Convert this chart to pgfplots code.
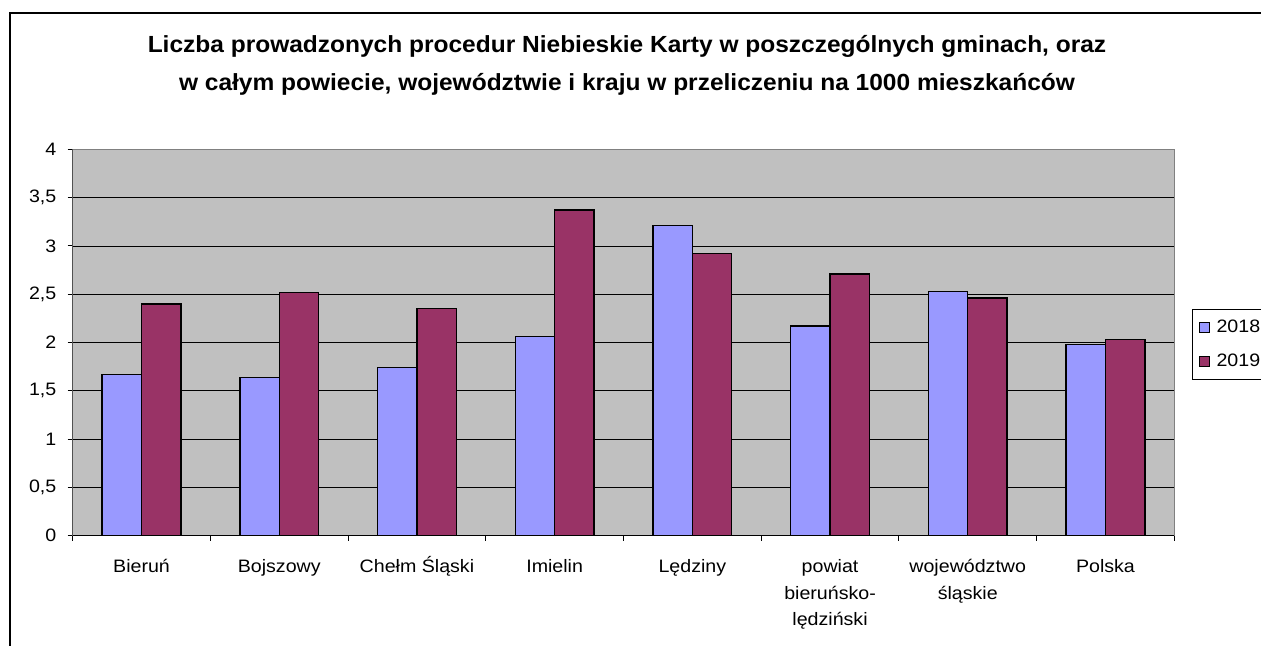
\documentclass[border=0pt]{standalone}
\usepackage{pgfplots}
\pgfplotsset{compat=1.18}
\usepackage{fontspec}
\setmainfont{Liberation Sans}
\newfontfamily\lab[FakeStretch=1.09]{Liberation Sans}
\newfontfamily\tit[FakeStretch=1.05]{Liberation Sans}
\definecolor{bgc}{HTML}{C0C0C0}
\definecolor{cA}{HTML}{9999FF}
\definecolor{cB}{HTML}{993366}
\definecolor{brd}{HTML}{808080}
\newcommand{\fs}{\vphantom{Śj}}
\begin{document}
\begin{tikzpicture}[x=0.75pt,y=0.75pt]
\useasboundingbox (0,0) rectangle (1261,646);
\draw[line width=1.5pt] (10,-5) -- (10,633) -- (1270,633);
\node[font=\tit\fontsize{17.5}{28.5}\selectfont\bfseries, align=center] at (627,581)
  {Liczba prowadzonych procedur Niebieskie Karty w poszczególnych gminach, oraz\\
   w całym powiecie, województwie i kraju w przeliczeniu na 1000 mieszkańców};
\begin{axis}[
  at={(54.525pt,82.725pt)}, anchor=south west,
  scale only axis, width=826.2pt, height=289.8pt,
  ybar=0pt, bar width=0.285714,
  xmin=-0.5, xmax=7.5, ymin=0, ymax=4,
  axis background/.style={fill=bgc},
  axis line style={draw=brd, line width=0.75pt},
  ymajorgrids, major grid style={black, line width=0.6pt},
  tick pos=left,
  xtick={-0.5,0.5,...,7.5}, xticklabels={},
  extra x ticks={0,1,2,3,4,5,6,7},
  extra x tick labels={\fs Bieruń,\fs Bojszowy,\fs Chełm Śląski,\fs Imielin,\fs Lędziny,{\fs powiat\\bieruńsko-\\lędziński},{\fs województwo\\śląskie},\fs Polska},
  extra x tick style={major tick length=0pt, grid=none, xticklabel style={yshift=-12pt}},
  ytick={0,0.5,...,4},
  yticklabels={0,{0,5},1,{1,5},2,{2,5},3,{3,5},4},
  yticklabel style={xshift=-5pt},
  tick align=outside, major tick length=3.75pt,
  tick style={black, line width=0.75pt},
  ticklabel style={font=\lab\fontsize{13.5}{19.9}\selectfont},
  xticklabel style={align=center},
  legend style={at={(1.016,0.587)}, anchor=north west, draw=black, fill=white,
    font=\lab\fontsize{13.5}{16}\selectfont, row sep=11pt, inner xsep=5pt, inner ysep=6pt,
    /tikz/every odd column/.append style={column sep=3pt}},
  legend cell align=left,
]
\addplot[fill=cA, draw=black, line width=1.1pt,
  legend image code/.code={\draw[fill=cA, draw=black, line width=0.75pt] (0pt,-3.75pt) rectangle (7.5pt,3.75pt);}]
  coordinates {(0,1.67) (1,1.64) (2,1.74) (3,2.06) (4,3.21) (5,2.17) (6,2.53) (7,1.98)};
\addplot[fill=cB, draw=black, line width=1.1pt,
  legend image code/.code={\draw[fill=cB, draw=black, line width=0.75pt] (0pt,-3.75pt) rectangle (7.5pt,3.75pt);}]
  coordinates {(0,2.40) (1,2.52) (2,2.35) (3,3.37) (4,2.92) (5,2.71) (6,2.46) (7,2.03)};
\legend{2018,2019}
\draw[black, line width=0.75pt] (rel axis cs:0,1) -- (rel axis cs:0,0) -- (rel axis cs:1,0);
\end{axis}
\end{tikzpicture}
\end{document}
